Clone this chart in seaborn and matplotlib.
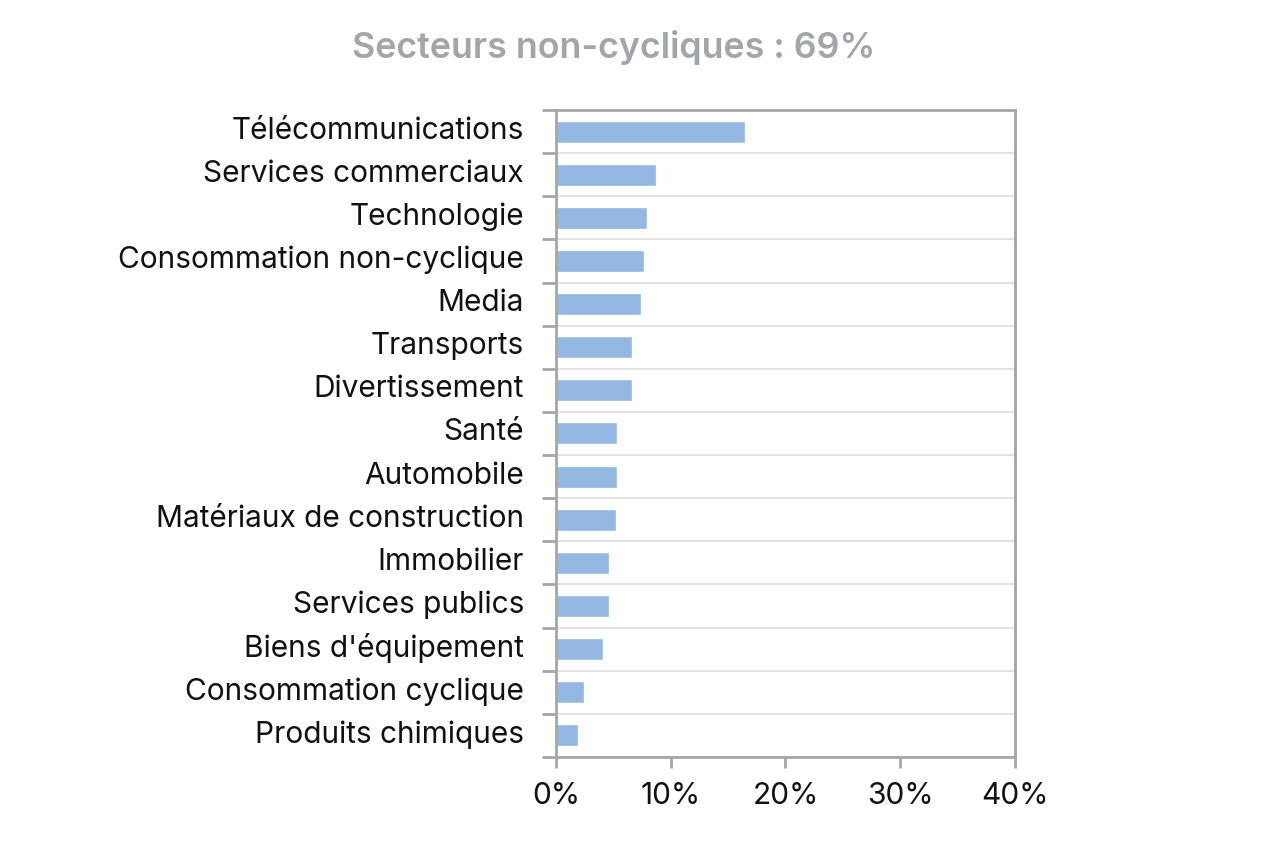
import seaborn as sns
import matplotlib.pyplot as plt
import matplotlib.transforms as mtransforms
import numpy as np
import pandas as pd
from matplotlib.ticker import FixedLocator, PercentFormatter

sectors = ['Télécommunications', 'Services commerciaux', 'Technologie',
           'Consommation non-cyclique', 'Media', 'Transports', 'Divertissement',
           'Santé', 'Automobile', 'Matériaux de construction', 'Immobilier',
           'Services publics', "Biens d'équipement", 'Consommation cyclique',
           'Produits chimiques']
weights = [16.5, 8.7, 7.9, 7.7, 7.4, 6.6, 6.6, 5.3, 5.3, 5.2, 4.6, 4.6, 4.1, 2.4, 1.9]
x_ticks = [0, 10, 20, 30, 40]

df = pd.DataFrame({'sector': sectors, 'weight': weights})

sns.set_style('white')
plt.rcParams['font.family'] = ['Inter', 'DejaVu Sans']

fig = plt.figure(figsize=(12.61, 8.41), dpi=100)
ax = fig.add_axes([0.4409, 0.0999, 0.3640, 0.7693])

sns.barplot(data=df, x='weight', y='sector', orient='h', color='#95b8e3',
            width=0.51, saturation=1, ax=ax)

ax.set_xlim(0, 40)
ax.set_ylim(len(sectors) - 0.5, -0.5)
ax.set_xticks(x_ticks)
ax.xaxis.set_major_formatter(PercentFormatter(decimals=0))
ax.set_xlabel('')
ax.set_ylabel('')

# boundaries between categories carry the ticks and grid lines
ax.yaxis.set_minor_locator(FixedLocator(np.arange(-0.5, len(sectors), 1.0)))
ax.tick_params(axis='y', which='major', length=0, pad=23, labelsize=21.5, labelcolor='#111111')
ax.tick_params(axis='y', which='minor', length=10, width=2, color='#a6a6a6', left=True)
ax.tick_params(axis='x', which='major', length=8, width=2, color='#a6a6a6', bottom=True,
               pad=10, labelsize=21.5, labelcolor='#111111')

# labels sit a little above the bar centre in the original
shift = mtransforms.ScaledTranslation(0, 4 / 100, fig.dpi_scale_trans)
for lab in ax.get_yticklabels():
    lab.set_transform(lab.get_transform() + shift)

ax.grid(True, axis='y', which='minor', color='#e3e3e3', linewidth=1.5)
ax.set_axisbelow(True)

for side in ['left', 'right', 'top', 'bottom']:
    ax.spines[side].set_visible(True)
    ax.spines[side].set_color('#a6a6a6')
    ax.spines[side].set_linewidth(2)

fig.text(0.487, 0.944, 'Secteurs non-cycliques : 69%', ha='center', va='center',
         fontsize=25.8, fontweight='semibold', color='#a3a6a9')

fig.savefig('out.png', dpi=100)
plt.close()
